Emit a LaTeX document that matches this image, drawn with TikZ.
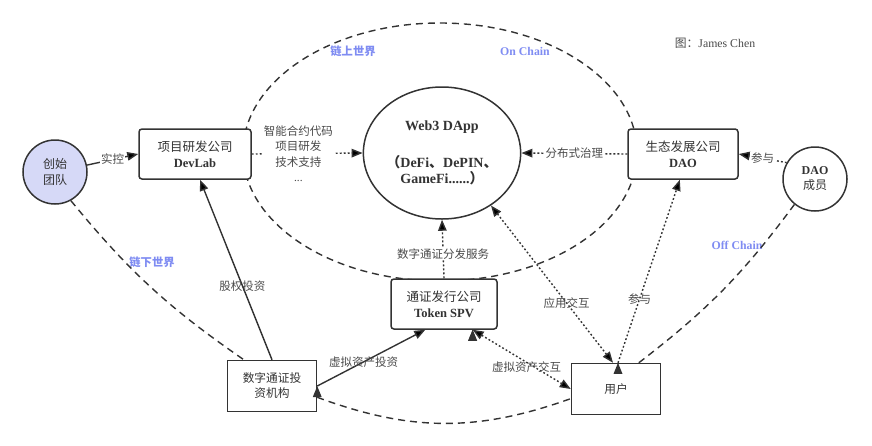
\documentclass[tikz,border=0pt]{standalone}
\usepackage{fontspec}
\setmainfont{Liberation Serif}
\newfontfamily\cjk{Noto Sans CJK SC}
\usepackage{tikz}
\usetikzlibrary{
    positioning,
    arrows.meta,
    shapes.geometric
}
\definecolor{linea}{HTML}{333333}
\definecolor{texto}{HTML}{333333}
\definecolor{gris}{HTML}{4A4A4A}
\definecolor{azul}{HTML}{7F8CF2}
\definecolor{lila}{HTML}{D6D9F7}
\tikzset{
    >={Triangle[length=11pt,width=8.5pt]},
    caja/.style={
        draw=linea,
        line width=1.5pt,
        rounded corners=3pt,
        fill=white,
        align=center,
        text=texto,
        inner sep=2pt,
        font=\fontsize{12.5}{16}\selectfont\cjk
    },
    rol/.style={
        circle,
        draw=linea,
        line width=1.5pt,
        fill=white,
        align=center,
        text=texto,
        minimum size=64pt,
        inner sep=0pt,
        font=\fontsize{12}{16}\selectfont\cjk
    },
    etiqueta/.style={
        text=gris,
        align=center,
        inner sep=1pt,
        font=\fontsize{11.5}{15.5}\selectfont\cjk
    },
    mundo/.style={
        text=azul,
        font=\fontsize{11.8}{14}\selectfont\bfseries
    },
    punteado/.style={
        draw=linea,
        line width=1.4pt,
        dash pattern=on 1.8pt off 2.2pt
    },
    rayado/.style={
        draw=linea,
        line width=1.4pt,
        dash pattern=on 7pt off 5pt
    },
    solido/.style={
        draw=linea,
        line width=1.4pt
    }
}

\begin{document}
\begin{tikzpicture}[
    x=1pt,
    y=-1pt
]
    \useasboundingbox (0,0) rectangle (872,445);

    % Mundo en cadena
    \draw[rayado] (440,152) ellipse [x radius=197pt, y radius=129pt];

    % Nodos
    \node[rol, fill=lila]                                   (equipo)   at (55,172)  {创始\\团队};
    \node[caja, minimum width=112pt, minimum height=50pt]  (devlab)   at (195,154) {项目研发公司\\{\rmfamily\bfseries DevLab}};
    \node[ellipse, draw=linea, line width=1.5pt, fill=white,
          minimum width=148pt, minimum height=132pt, inner sep=0pt,
          align=center, text=texto,
          font=\fontsize{14}{16}\selectfont\bfseries]      (dapp)     at (442,153) {Web3 DApp\\[21pt]{\cjk （}DeFi{\cjk 、}DePIN{\cjk 、}\\GameFi......{\cjk ）}};
    \node[caja, minimum width=110pt, minimum height=50pt]  (dao)      at (683,154) {生态发展公司\\{\rmfamily\bfseries DAO}};
    \node[rol]                                              (miembros) at (815,179) {{\rmfamily\bfseries DAO}\\[-1pt]成员};
    \node[caja, minimum width=106pt, minimum height=50pt]  (spv)      at (444,304) {通证发行公司\\{\rmfamily\bfseries Token SPV}};
    \node[caja, sharp corners, minimum width=89pt, minimum height=51pt,
          font=\fontsize{11.7}{15}\selectfont\cjk]         (fondo)    at (272,386) {数字通证投\\资机构};
    \node[caja, sharp corners, minimum width=89pt, minimum height=51pt,
          font=\fontsize{11.7}{15}\selectfont\cjk]         (usuario)  at (616,389) {用户};

    % Textos libres
    \node[mundo, font=\fontsize{11.3}{14}\selectfont\cjk\bfseries] (enzh)  at (353,51)  {链上世界};
    \node[mundo]                                                    (onch)  at (525,51)  {On Chain};
    \node[mundo, font=\fontsize{11.3}{14}\selectfont\cjk\bfseries] (fuera) at (152,262) {链下世界};
    \node[mundo]                                                    (offch) at (737,245) {Off Chain};
    \node[text=gris, font=\fontsize{11.8}{14}\selectfont]           (autor) at (715,43)  {{\cjk 图：}James Chen};

    % Conexiones
    \path[solido, ->]
        (equipo)
            edge node[etiqueta, fill=white] {实控} (devlab.west)
        (fondo.north)
            edge node[etiqueta, pos=0.41] {股权投资} (devlab.-79)
        (fondo.east)
            edge node[etiqueta, pos=0.43] {虚拟资产投资} (spv.-126);

    \path[punteado, ->]
        (devlab.east)
            edge node[etiqueta, fill=white, pos=0.42] {智能合约代码\\项目研发\\技术支持\\{\rmfamily ...}} (dapp.west)
        (dao.west)
            edge node[etiqueta, fill=white] {分布式治理} (dapp.east)
        (miembros.150)
            edge node[etiqueta, fill=white] {参与} (dao.east)
        (spv.north)
            edge node[etiqueta, fill=white, pos=0.42] {数字通证分发服务} (dapp.south)
        ([xshift=2pt]usuario.north)
            edge node[etiqueta, pos=0.35] {参与} (dao.-97);

    \path[punteado, <->]
        ([xshift=-3pt]usuario.north)
            edge node[etiqueta, pos=0.38] {应用交互} (dapp.-47)
        (spv.-42)
            edge node[etiqueta, pos=0.55, below=-2pt] {虚拟资产交互} (usuario.west);

    % Mundo fuera de cadena
    \path[rayado]
        (equipo.-61)
            edge[bend right=8] (fondo.137)
        (fondo.-14)
            edge[bend right=20] (usuario.192)
        (usuario.49)
            edge[bend right=8] (miembros.231);

\end{tikzpicture}
\end{document}
